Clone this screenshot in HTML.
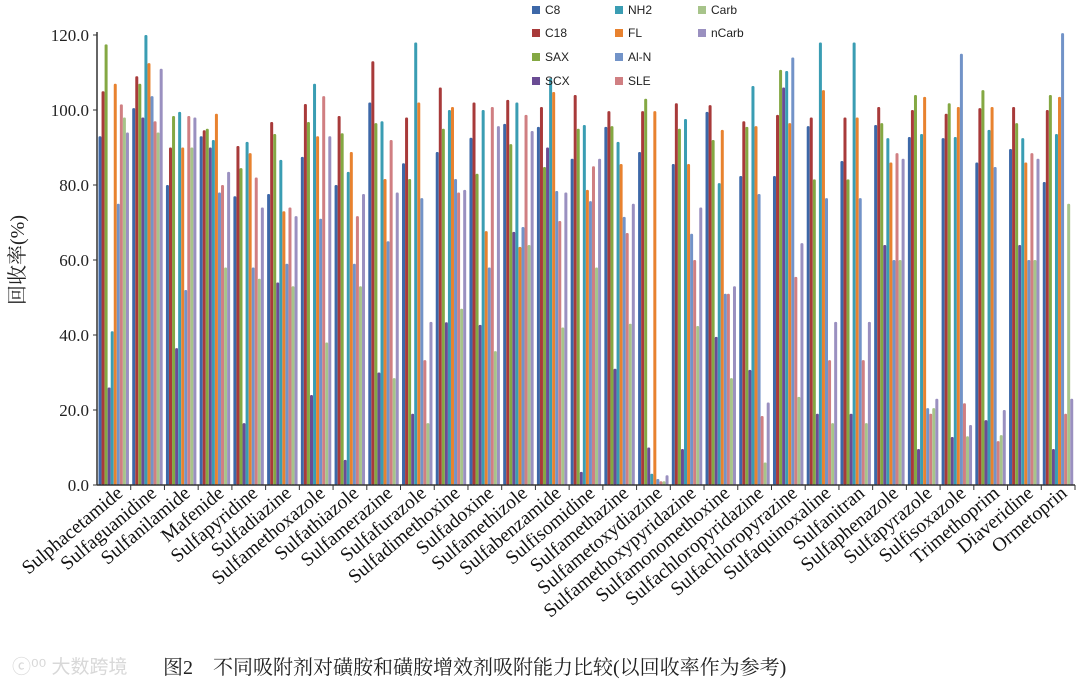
<!DOCTYPE html>
<html><head><meta charset="utf-8"><style>
body{margin:0;background:#fff;width:1080px;height:685px;overflow:hidden}
svg{display:block}
</style></head><body>
<svg id="chart" width="1080" height="685" xmlns="http://www.w3.org/2000/svg"></svg>
<script>
const categories=["Sulphacetamide","Sulfaguanidine","Sulfanilamide","Mafenide","Sulfapyridine","Sulfadiazine","Sulfamethoxazole","Sulfathiazole","Sulfamerazine","Sulfafurazole","Sulfadimethoxine","Sulfadoxine","Sulfamethizole","Sulfabenzamide","Sulfisomidine","Sulfamethazine","Sulfametoxydiazine","Sulfamethoxypyridazine","Sulfamonomethoxine","Sulfachloropyridazine","Sulfachloropyrazine","Sulfaquinoxaline","Sulfanitran","Sulfaphenazole","Sulfapyrazole","Sulfisoxazole","Trimethoprim","Diaveridine","Ormetoprin"];
const seriesNames=["C8","C18","SAX","SCX","NH2","FL","Al-N","SLE","Carb","nCarb"];
const C8=[93,100.5,80,93,77,77.6,87.5,80,102,85.8,88.8,92.6,96.3,95.5,87,95.5,88.8,85.6,99.5,82.4,82.4,95.7,86.4,96,92.8,92.5,86,89.6,80.8];
const C18=[105,109,90,94.6,90.4,96.8,101.6,98.4,113,98,106,102,102.7,100.8,104,99.7,99.7,101.8,101.3,97,98.7,98,98,100.8,100,99,100.5,100.8,100];
const SAX=[117.5,107,98.4,95,84.5,93.6,96.8,93.8,96.5,81.6,95,83,90.9,84.8,95,95.7,103,95,92,95.5,110.7,81.5,81.5,96.5,104,101.8,105.3,96.5,104];
const SCX=[26,98,36.5,90,16.5,54,24,6.7,30,19,43.4,42.7,67.5,90,3.5,31,10,9.6,39.5,30.7,106,19,19,64,9.6,12.8,17.3,64,9.6];
const NH2=[41,120,99.5,92,91.5,86.7,107,83.5,97,118,100,100,102,108.5,96,91.5,3,97.6,80.5,106.4,110.4,118,118,92.5,93.6,92.8,94.7,92.5,93.6];
const FL=[107,112.5,90,99,88.5,73,93,88.8,81.6,102,100.8,67.7,63.5,104.8,78.7,85.6,99.7,85.6,94.7,95.7,96.5,105.3,98,86,103.5,100.8,100.8,86,103.5];
const AlN=[75,103.7,52,78,58,59,71,59,65,76.5,81.6,58,68.8,78.4,75.7,71.5,1.6,67,51,77.6,114,76.5,76.5,60,20.5,115,84.8,60,120.5];
const SLE=[101.5,97,98.4,80,82,74,103.7,71.7,92,33.3,78,100.8,98.7,70.4,85,67.2,1,60,51,18.4,55.5,33.3,33.3,88.5,19,21.8,11.7,88.5,19];
const Carb=[98,94,90,58,55,53,38,53,28.5,16.5,47,35.7,64,42,58,43,1,42.4,28.5,6,23.5,16.5,16.5,60,20.5,13,13.3,60,75];
const nCarb=[94,111,98,83.5,74,71.7,93,77.6,78,43.5,78.7,95.7,94.4,78,87,75,2.6,74,53,22,64.5,43.5,43.5,87,23,16,20,87,23];
const yTicks=["0.0","20.0","40.0","60.0","80.0","100.0","120.0"];
const allSeries=[C8,C18,SAX,SCX,NH2,FL,AlN,SLE,Carb,nCarb];
const colors=["#3d68a8","#a83a3a","#84a843","#6a4c94","#3a9db3","#e8822f","#7293c8","#d07f82","#a7c48a","#9a90c0"];
const NS="http://www.w3.org/2000/svg";
const svg=document.getElementById('chart');
const X0=97,X1=1075,Y0=485,YTOP=35,YMAX=120;
const gw=(X1-X0)/categories.length;
function y(v){return Y0-(v/YMAX)*(Y0-YTOP);}
function x(i,s){return X0+i*gw+1.5+s*3.05;}
function mk(t,a){const e=document.createElementNS(NS,t);for(const k in a)e.setAttribute(k,a[k]);svg.appendChild(e);return e;}
allSeries.forEach((arr,s)=>{arr.forEach((v,i)=>{
  const r=mk('rect',{x:x(i,s),y:y(v),width:3,height:Y0-y(v),fill:colors[s],rx:1.2});
  
  
});});
const ya=mk('line',{x1:X0,y1:YTOP-3,x2:X0,y2:Y0,stroke:'#333','stroke-width':1.5});


const xa=mk('line',{x1:X0,y1:Y0,x2:X1,y2:Y0,stroke:'#333','stroke-width':1.5});


yTicks.forEach(t=>{
  const v=parseFloat(t);
  mk('line',{x1:X0-4,y1:y(v),x2:X0,y2:y(v),stroke:'#333'});
  const tx=mk('text',{x:X0-8,y:y(v)+6,'text-anchor':'end','font-family':'"Liberation Serif",serif','font-size':17,fill:'#222'});
  tx.textContent=t;
  
  
});
categories.forEach((c,i)=>{
  const tx0=X0+(i+1)*gw;
  mk('line',{x1:tx0,y1:Y0,x2:tx0,y2:Y0+5,stroke:'#333'});
  const cx=X0+i*gw+gw/2+10, cy=Y0+10;
  const t=mk('text',{x:cx,y:cy,'text-anchor':'end','font-family':'"Liberation Serif",serif','font-size':19.5,fill:'#111',transform:`rotate(-40 ${cx} ${cy})`});
  t.textContent=c;
  
  
});
const yt=mk('text',{x:24,y:260,'text-anchor':'middle','font-family':'"Liberation Serif","Noto Serif CJK SC",serif','font-size':20,fill:'#222',transform:'rotate(-90 24 260)'});
yt.textContent='回收率(%)';


const legendOrder=[0,4,8,1,5,9,2,6,3,7];
const pos=[[532,10],[615,10],[698,10],[532,33],[615,33],[698,33],[532,57],[615,57],[532,81],[615,81]];
legendOrder.forEach((s,k)=>{
  const [lx,ly]=pos[k];
  const r=mk('rect',{x:lx,y:ly-4,width:8,height:8,fill:colors[s]});
  
  
  const t=mk('text',{x:lx+13,y:ly+4,'font-family':'"Liberation Sans",sans-serif','font-size':12,fill:'#222'});
  t.textContent=seriesNames[s];
  
  
});
const cap=mk('text',{x:163,y:674,'font-family':'"Liberation Serif","Noto Serif CJK SC",serif','font-size':20,fill:'#222'});
cap.textContent='图2　不同吸附剂对磺胺和磺胺增效剂吸附能力比较(以回收率作为参考)';


const wm=mk('text',{x:12,y:673,'font-family':'"Liberation Sans","Noto Sans CJK SC",sans-serif','font-size':19,fill:'#d8d8d8'});
wm.textContent='ⓒ⁰⁰ 大数跨境';


</script>
</body></html>
